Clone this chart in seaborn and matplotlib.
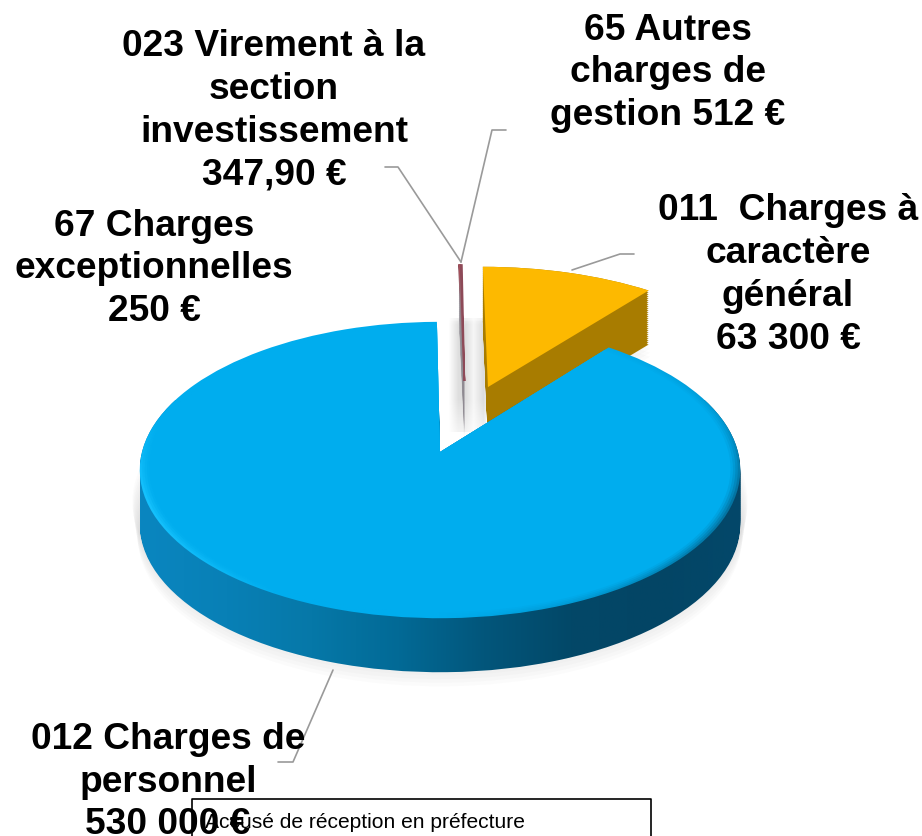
import numpy as np
import matplotlib
matplotlib.use('Agg')
import matplotlib.pyplot as plt
from matplotlib.path import Path
from matplotlib.patches import PathPatch
from matplotlib.transforms import Transform
import seaborn as sns

# valeurs
postes = ['67 Charges exceptionnelles', '023 Virement à la section investissement',
          '65 Autres charges de gestion', '011 Charges à caractère général',
          '012 Charges de personnel']
montants = [250, 347.90, 512, 63300, 530000]

etiquettes = ['67 Charges\nexceptionnelles\n250 €',
              '023 Virement à la\nsection\ninvestissement\n347,90 €',
              '65 Autres\ncharges de\ngestion 512 €',
              '011  Charges à\ncaractère\ngénéral\n63 300 €',
              '012 Charges de\npersonnel\n530 000 €']
pos_etiquettes = [(154, 269), (274, 111), (668, 73), (788, 275), (168, 782)]

couleurs_dessus = ['#8e4a58', '#a8505a', '#8e4a58', '#FDB900', '#00ADEE']
couleurs_cote = ['#8f8a92', '#8f8a92', '#8f8a92', '#A87C00', '#0a6f9e']
centres = [(0.087, 0.517), (0.087, 0.517), (0.087, 0.517), (0.17, 0.47), (0, 0)]
rayons = [1, 1, 1, 1.03, 1]

leaders = [[(385, 167), (398, 167), (461, 262)],
           [(506, 130), (492, 130), (461, 262)],
           [(634, 254), (620, 254), (572, 270)],
           [(278, 762), (293, 762), (333, 670)]]

EPAISSEUR = 55


class Perspective(Transform):
    input_dims = 2
    output_dims = 2

    def __init__(self, decalage=0):
        super().__init__()
        self.decalage = decalage

    def transform_non_affine(self, values):
        values = np.asarray(values)
        w = 1 + 0.1216 * values[:, 1]
        return np.column_stack([440 + 298 * values[:, 0] / w,
                                452 - 146 * values[:, 1] / w + self.decalage])


sns.set_theme(style='white')
plt.rcParams['font.family'] = ['Liberation Sans', 'DejaVu Sans']

fig = plt.figure(figsize=(9.22, 8.36), dpi=100)
ax = fig.add_axes([0, 0, 1, 1])


def part(i, echelle=1.0):
    # un camembert complet, on ne garde que la part i
    depart = 90 + sum(montants[:3]) / sum(montants) * 360
    wedges, _ = ax.pie(montants, colors=couleurs_dessus, startangle=depart, counterclock=False,
                       center=centres[i], radius=rayons[i] * echelle, frame=False,
                       wedgeprops={'edgecolor': 'none', 'linewidth': 0})
    for j, w in enumerate(wedges):
        if j != i:
            w.remove()
    return wedges[i]


def extrusion(w, debut=0, fin=EPAISSEUR):
    chemins = [Perspective(d).transform_path(w.get_path()) for d in range(debut, fin + 1, 2)]
    return Path.make_compound_path(*chemins)


degrade = sns.blend_palette(['#0a86c0', '#0880b6', '#0678a8', '#026a96', '#02567b', '#034868', '#034565', '#03486a'],
                            n_colors=256, as_cmap=True)
biseau = sns.blend_palette(['#18c4ff', '#00ADEE', '#00ADEE', '#0098d2', '#046f9c'], n_colors=256, as_cmap=True)

for i in [3, 2, 1, 0, 4]:
    z = i * 4 + 1
    # ombre douce autour de la part
    for k, d in enumerate(range(EPAISSEUR - 24, EPAISSEUR + 16, 4)):
        ombre = part(i, 1.024 - 0.002 * k if i == 4 else 1.01)
        ax.add_patch(PathPatch(Perspective(d).transform_path(ombre.get_path()),
                               fc='#777777', ec='none', alpha=0.022, zorder=z))
        ombre.remove()

    w = part(i)
    if i == 4:
        im = ax.imshow(np.linspace(0, 1, 256)[None, :], extent=(140, 742, 700, 400), cmap=degrade,
                       aspect='auto', zorder=z + 1)
        im.set_clip_path(extrusion(w), ax.transData)
        # biseau clair à gauche, sombre à droite
        xx, yy = np.meshgrid(np.linspace(0, 1, 200), np.linspace(0, 1, 120))
        im2 = ax.imshow(0.5 + (xx - 0.5) * np.clip(yy * 1.8, 0, 1), extent=(130, 750, 640, 320), cmap=biseau,
                        vmin=0, vmax=1, aspect='auto', zorder=z + 2)
        im2.set_clip_path(Perspective().transform_path(w.get_path()), ax.transData)
        # le dessus plat par-dessus, bord flou
        for echelle, alpha in [(0.992, 0.3), (0.984, 0.4), (0.976, 0.6), (0.968, 1)]:
            p = part(i, echelle)
            p.set_transform(Perspective() + ax.transData)
            p.set_alpha(alpha)
            p.set_zorder(z + 3)
        w.remove()
    else:
        ax.add_patch(PathPatch(extrusion(w), fc=couleurs_cote[i], ec='none',
                               alpha=0.6 if i < 3 else 1, zorder=z + 1))
        w.set_transform(Perspective() + ax.transData)
        w.set_zorder(z + 3)
        if i < 3:
            w.set_edgecolor(couleurs_dessus[i])
            w.set_linewidth(1.2)

# ombre entre les parts, derrière la tranche bleue
largeur = np.interp(np.linspace(448, 486, 39), [448, 458, 466, 474, 484, 486], [0, 0.13, 0.13, 0.04, 0.14, 0.1])
hauteur = np.interp(np.linspace(318, 432, 40), [318, 322, 400, 432], [0.5, 1, 1, 0.4])
rgba = np.zeros((40, 39, 4))
rgba[..., 3] = np.outer(hauteur, largeur)
ax.imshow(rgba, extent=(448, 486, 432, 318), aspect='auto', zorder=0.5)

for pts in leaders:
    x, y = zip(*pts)
    ax.plot(x, y, color='#9a9a9a', lw=1.2, zorder=30)

for texte, (x, y) in zip(etiquettes, pos_etiquettes):
    ax.text(x, y, texte, ha='center', va='center', fontsize=26.7, fontweight='bold',
            color='black', linespacing=1.29, zorder=40)

# cartouche de l'accusé de réception, coupé par le bas de l'image
ax.plot([192, 192, 651, 651], [836, 799, 799, 836], color='black', lw=1.2, zorder=41)
ax.text(205, 823, 'Accusé de réception en préfecture', fontsize=15.1, color='black', va='center', zorder=42)

ax.set_aspect('auto')
ax.set_xlim(0, 922)
ax.set_ylim(836, 0)
ax.axis('off')
sns.despine(ax=ax, left=True, bottom=True)
fig.savefig('out.png', dpi=100)
